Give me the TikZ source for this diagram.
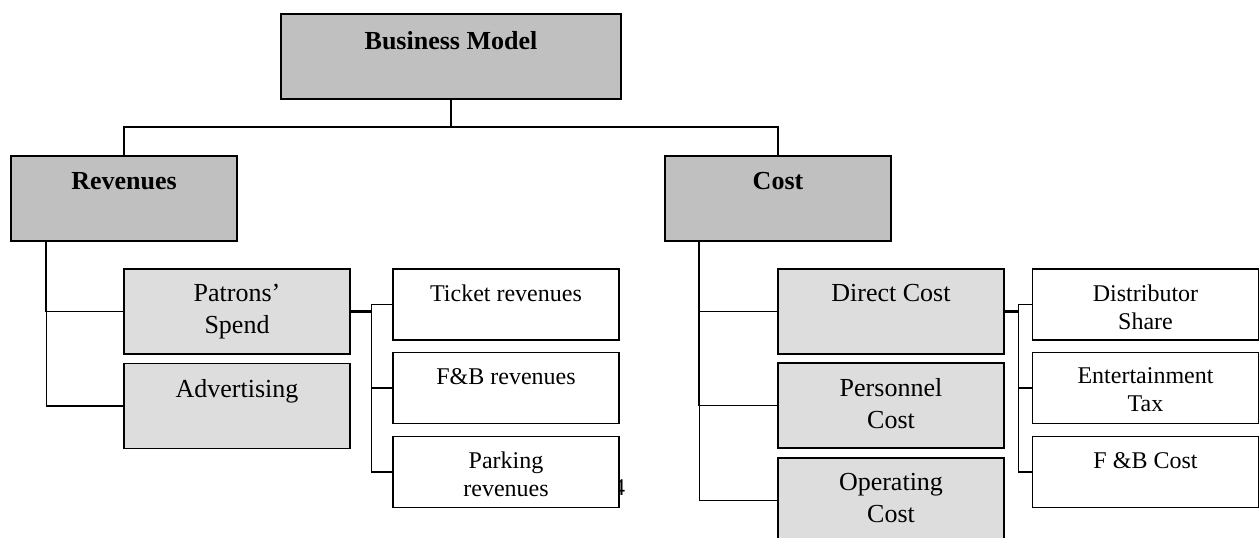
\documentclass[tikz,border=0pt]{standalone}
\usepackage{fontspec}
\setmainfont{Liberation Serif}
\usetikzlibrary{positioning}
\definecolor{darkfill}{HTML}{C0C0C0}
\definecolor{lightfill}{HTML}{DDDDDD}

\begin{document}
\begin{tikzpicture}[x=0.5pt, y=-0.5pt,
  mainbox/.style={draw, line width=0.8pt, fill=darkfill, minimum width=113pt, minimum height=42.5pt, inner sep=0pt},
  subbox/.style={draw, line width=0.8pt, fill=lightfill, minimum width=113pt, minimum height=42.5pt, inner sep=0pt},
  leafbox/.style={draw, line width=0.8pt, fill=white, minimum width=113pt, minimum height=35.5pt, inner sep=0pt},
  headtext/.style={inner sep=0pt, font=\fontsize{13}{15}\selectfont\bfseries},
  subtext/.style={inner sep=0pt, align=center, font=\fontsize{13}{16}\selectfont},
  leaftext/.style={inner sep=0pt, align=center, font=\fontsize{12}{14}\selectfont},
  link/.style={line width=0.6pt},
  trunk/.style={line width=1.1pt}]
\useasboundingbox (0,0) rectangle (1260,537);
\clip (0,0) rectangle (1260,537);

% page number, mostly hidden behind the parking box
\node[inner sep=0pt, anchor=base, font=\fontsize{12}{14}\selectfont] (pagenum) at (619,495) {4};

% top levels
\node[mainbox, minimum width=170pt] (bm) at (451,56.5) {};
\node[headtext, below=9pt of bm.north] (bmtxt) {Business Model};

\node[mainbox] (rev) at (124,198.5) {};
\node[headtext, below=8.5pt of rev.north] (revtxt) {Revenues};

\node[mainbox] (cost) at (778,198.5) {};
\node[headtext, below=8.5pt of cost.north] (costtxt) {Cost};

% revenues side
\node[subbox] (pat) at (237,311.5) {};
\node[subtext, below=8pt of pat.north] (pattxt) {Patrons'\\Spend};
\node[subbox] (adv) at (237,406) {};
\node[subtext, below=8pt of adv.north] (advtxt) {Advertising};

\node[leafbox] (ticket) at (506,304.5) {};
\node[leaftext, below=8pt of ticket.north] (tickettxt) {Ticket revenues};
\node[leafbox] (fbrev) at (506,388) {};
\node[leaftext, below=8pt of fbrev.north] (fbrevtxt) {F\&B revenues};
\node[leafbox] (park) at (506,472) {};
\node[leaftext, below=8pt of park.north] (parktxt) {Parking\\revenues};

% cost side
\node[subbox] (direct) at (891,311.5) {};
\node[subtext, below=8pt of direct.north] (directtxt) {Direct Cost};
\node[subbox] (pers) at (891,405.5) {};
\node[subtext, below=8pt of pers.north] (perstxt) {Personnel\\Cost};
\node[subbox] (oper) at (891,500.5) {};
\node[subtext, below=8pt of oper.north] (opertxt) {Operating\\Cost};

\node[leafbox] (distr) at (1145.5,304.5) {};
\node[leaftext, below=8pt of distr.north] (distrtxt) {Distributor\\Share};
\node[leafbox] (tax) at (1145.5,388) {};
\node[leaftext, below=8pt of tax.north] (taxtxt) {Entertainment\\Tax};
\node[leafbox] (fbcost) at (1145.5,472) {};
\node[leaftext, below=8pt of fbcost.north] (fbcosttxt) {F \&B Cost};

% connectors
\coordinate (split) at (451,127);
\draw[link] (bm.south) -- (split);
\draw[link] (rev.north) |- (split) -| (cost.north);

\coordinate (revstem) at ([xshift=18pt]rev.south west);
\draw[trunk] (revstem) -- (revstem |- pat.west);
\draw[link] (revstem) |- (pat.west);
\draw[link] (revstem) |- (adv.west);

\coordinate[right=10.5pt of pat.east] (patfork);
\draw[trunk] (pat.east) -- (patfork);
\draw[link] (patfork) |- (ticket.west);
\draw[link] (patfork) |- (fbrev.west);
\draw[link] (patfork) |- (park.west);

\coordinate (coststem) at ([xshift=17.5pt]cost.south west);
\draw[trunk] (coststem) -- (coststem |- pers.west);
\draw[link] (coststem) |- (direct.west);
\draw[link] (coststem) |- (pers.west);
\draw[link] (coststem) |- (oper.west);

\coordinate[right=7pt of direct.east] (directfork);
\draw[trunk] (direct.east) -- (directfork);
\draw[link] (directfork) |- (distr.west);
\draw[link] (directfork) |- (tax.west);
\draw[link] (directfork) |- (fbcost.west);
\end{tikzpicture}
\end{document}
